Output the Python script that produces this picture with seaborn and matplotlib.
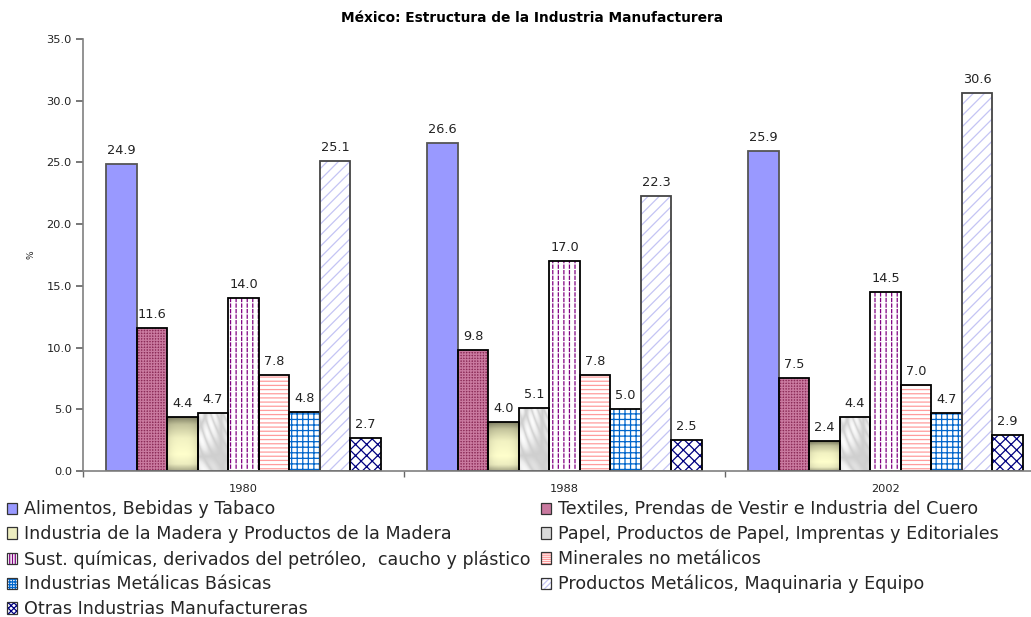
import numpy as np
import pandas as pd
import matplotlib
matplotlib.use("Agg")
import matplotlib.pyplot as plt
from matplotlib.patches import Rectangle, Patch
from matplotlib.colors import LinearSegmentedColormap
import seaborn as sns

# --- data -------------------------------------------------------------
years = ["1980", "1988", "2002"]
sectors = [
    "Alimentos, Bebidas y Tabaco",
    "Textiles, Prendas de Vestir e Industria del Cuero",
    "Industria de la Madera y Productos de la Madera",
    "Papel, Productos de Papel, Imprentas y Editoriales",
    "Sust. químicas, derivados del petróleo,  caucho y plástico",
    "Minerales no metálicos",
    "Industrias Metálicas Básicas",
    "Productos Metálicos, Maquinaria y Equipo",
    "Otras Industrias Manufactureras",
]
alimentos = [24.9, 26.6, 25.9]
textiles = [11.6, 9.8, 7.5]
madera = [4.4, 4.0, 2.4]
papel = [4.7, 5.1, 4.4]
quimicas = [14.0, 17.0, 14.5]
minerales = [7.8, 7.8, 7.0]
metalicas = [4.8, 5.0, 4.7]
productos = [25.1, 22.3, 30.6]
otras = [2.7, 2.5, 2.9]
series = [alimentos, textiles, madera, papel, quimicas,
          minerales, metalicas, productos, otras]
y_ticks = [0, 5, 10, 15, 20, 25, 30, 35]

df = pd.DataFrame(
    [(y, s, v[i]) for s, v in zip(sectors, series) for i, y in enumerate(years)],
    columns=["Año", "Rama", "Valor"],
)

# --- fill style for each sector: face, hatch, hatch colour -------------
styles = [
    dict(face="#9999FF", hatch=None, hc=None, edge="#555555"),
    dict(face="#8C2C58", hatch="++++++", hc="#C9799F", edge="black"),
    dict(face="gradient_wood", hatch=None, hc=None, edge="black", legend="#EEEEC0"),
    dict(face="gradient_paper", hatch=None, hc=None, edge="black", legend="#DADADA"),
    dict(face="white", hatch="|||", hc="#800080", edge="black", dash=True),
    dict(face="white", hatch="----", hc="#FF9C9C", edge="black"),
    dict(face="white", hatch="+++", hc="#0066CC", edge="black"),
    dict(face="white", hatch="///", hc="#C4C4F4", edge="#444444"),
    dict(face="white", hatch="xxx", hc="#000080", edge="black"),
]

sns.set_theme(style="white")
plt.rcParams["font.family"] = ["DejaVu Sans"]
plt.rcParams["hatch.linewidth"] = 0.9

W, H = 1031, 617
fig = plt.figure(figsize=(W / 100, H / 100), dpi=100)
ax = fig.add_axes([83 / W, 146 / H, 963 / W, 432 / H])

sns.barplot(data=df, x="Año", y="Valor", hue="Rama", hue_order=sectors,
            order=years, width=0.855, gap=0, dodge=True, legend=False,
            errorbar=None, ax=ax)

wood_cmap = LinearSegmentedColormap.from_list(
    "wood", [(0.0, "#A8A888"), (0.12, "#EDEDC0"), (0.3, "#FFFFCC"),
             (0.6, "#F2F2C2"), (0.85, "#C4C49C"), (1.0, "#7C7C60")])
paper_cmap = LinearSegmentedColormap.from_list(
    "paper", ["#FAFAFA", "#E8E8E8", "#CFCFCF", "#ECECEC", "#FCFCFC"])

for container, st in zip(ax.containers, styles):
    for bar in container.patches:
        x0, y0 = bar.get_xy()
        w, h = bar.get_width(), bar.get_height()
        z = bar.get_zorder()
        if st["face"].startswith("gradient"):
            bar.set_facecolor("white")
            bar.set_linewidth(0)
            if st["face"] == "gradient_wood":
                gy = np.linspace(0, 1, 64)[:, None]
                gx = np.linspace(-1, 1, 32)[None, :]
                img = wood_cmap(gy + 0 * gx)
                img[..., :3] *= (1 - 0.10 * np.abs(gx) ** 3)[..., None]
            else:
                gx = np.linspace(0, 1, 48)[None, :]
                gy = np.linspace(0, 1, 96)[:, None]
                grad = 0.5 + 0.25 * np.sin(9 * gx + 13 * gy) \
                    + 0.25 * np.sin(17 * gx * gy + 5 * gx)
                img = paper_cmap(grad)
            im = ax.imshow(img, extent=(x0, x0 + w, y0, y0 + h),
                           aspect="auto", origin="lower", zorder=z + 0.1,
                           interpolation="bilinear")
            im.set_clip_path(bar)
        else:
            bar.set_facecolor(st["face"])
            if st["hatch"]:
                bar.set_hatch(st["hatch"])
                bar.set_edgecolor(st["hc"])
            bar.set_linewidth(0)
            if st.get("dash"):
                # break the vertical strokes into short dashes
                ax.add_patch(Rectangle((x0, y0), w, h, facecolor="none",
                                       edgecolor="white", hatch="---",
                                       linewidth=0, zorder=z + 0.1))
        ax.add_patch(Rectangle((x0, y0), w, h, fill=False, edgecolor=st["edge"],
                               linewidth=1.3, zorder=z + 0.2))
        ax.annotate(f"{bar.get_height():.1f}", (x0 + w / 2, y0 + h),
                    xytext=(0, 5), textcoords="offset points",
                    ha="center", va="bottom", fontsize=9.3, color="#222222")

# --- axes ---------------------------------------------------------------
ax.set_xlim(-0.5, len(years) - 0.5)
ax.set_ylim(0, 35)
ax.set_yticks(y_ticks)
ax.set_yticklabels([f"{t:.1f}" for t in y_ticks], fontsize=8.2, color="#222222")
ax.set_xticks(range(len(years)))
ax.set_xticklabels(years, fontsize=8.2, color="#222222")
ax.set_xticks(np.arange(-0.5, len(years), 1.0), minor=True)
ax.tick_params(axis="x", which="major", length=0, pad=9)
ax.tick_params(axis="x", which="minor", length=4, color="#666666",
               direction="out", bottom=True)
ax.tick_params(axis="y", length=5, color="#666666", direction="out",
               left=True, pad=3)
ax.set_xlabel("")
ax.set_ylabel("%", fontsize=6.5)
ax.yaxis.set_label_coords((36 - 83) / 963, 0.5)
for s in ["top", "right"]:
    ax.spines[s].set_visible(False)
for s in ["left", "bottom"]:
    ax.spines[s].set_color("#808080")
    ax.spines[s].set_linewidth(1.2)

fig.text(532 / W, 1 - 18 / H, "México: Estructura de la Industria Manufacturera",
         ha="center", va="center", fontsize=9.9, fontweight="bold", color="black")

# --- legend -------------------------------------------------------------
handles = []
for st in styles:
    outline = Patch(facecolor="none", edgecolor="#333333", linewidth=0.9)
    if "legend" in st:
        fill = Patch(facecolor=st["legend"], linewidth=0)
    elif st["hatch"]:
        # the key squares are small, so use a finer version of the pattern
        fill = Patch(facecolor=st["face"], edgecolor=st["hc"],
                     hatch=st["hatch"] * 2, linewidth=0)
    else:
        fill = Patch(facecolor=st["face"], linewidth=0)
    handles.append((fill, outline))
order = [0, 2, 4, 6, 8, 1, 3, 5, 7]
fig.legend([handles[i] for i in order], [sectors[i] for i in order],
           loc="upper left", bbox_to_anchor=(0.003, 1 - 497 / H), ncol=2,
           frameon=False, fontsize=12.6, handlelength=0.62, handleheight=0.62,
           handletextpad=0.4, columnspacing=0.55, labelspacing=0.39,
           borderaxespad=0, borderpad=0.2)

fig.savefig("out.png", dpi=100)
